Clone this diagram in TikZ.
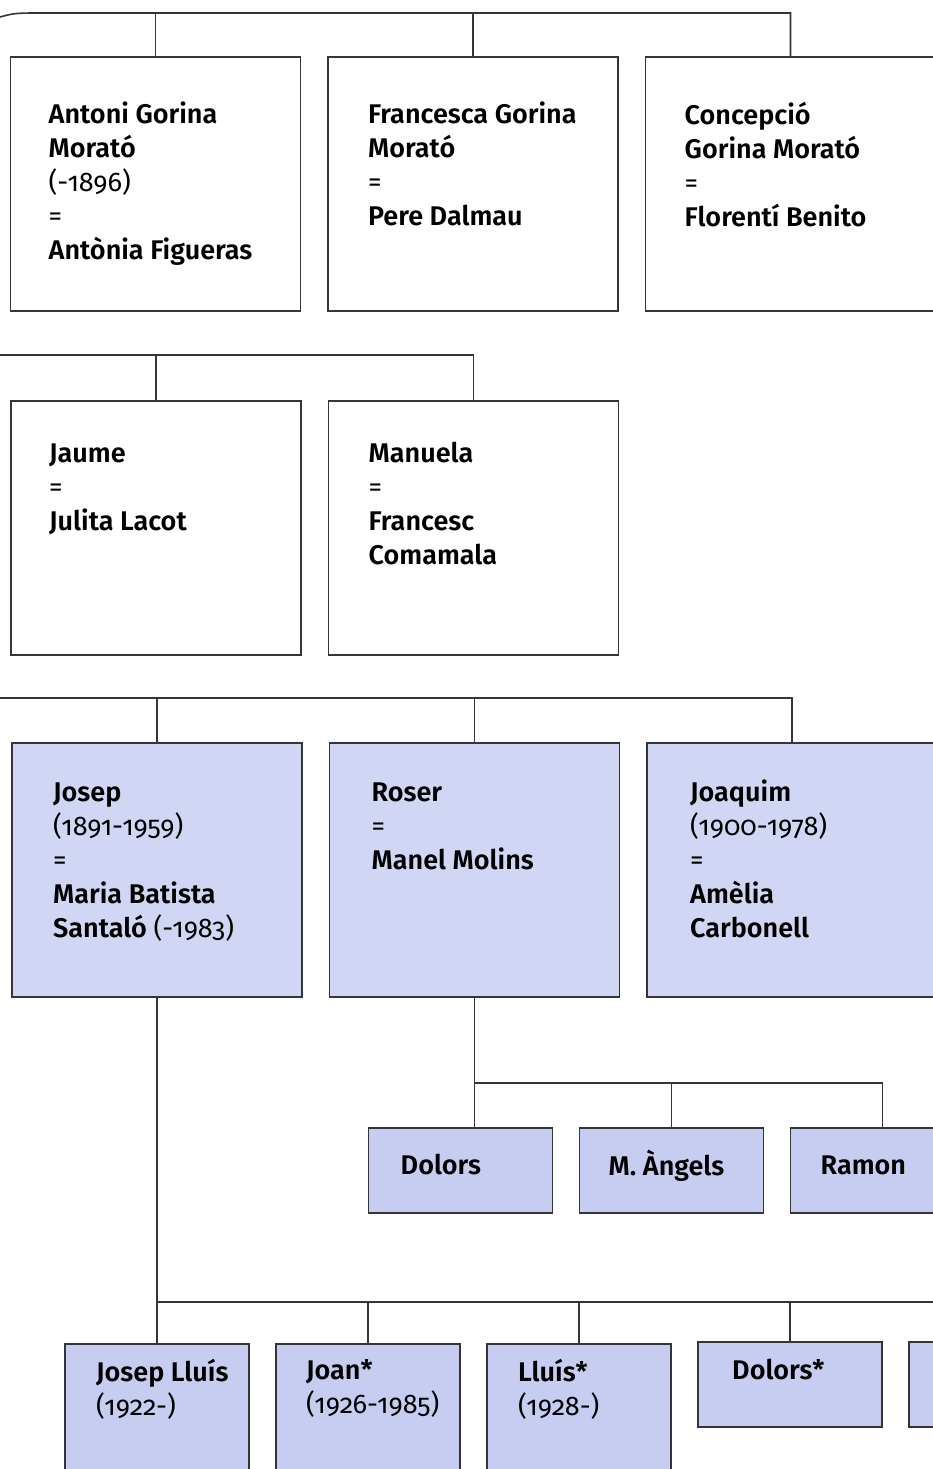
\documentclass[tikz,border=0pt]{standalone}
\usepackage{fontspec}
\setsansfont{Fira Sans}[Numbers=OldStyle, BoldFont={Fira Sans SemiBold}]
\usetikzlibrary{positioning}
\definecolor{famblue}{RGB}{208,214,244}
\definecolor{kidblue}{RGB}{198,205,241}
\definecolor{inkgray}{RGB}{52,52,58}
\newcommand{\yrs}[1]{\textmd{#1}}
\tikzstyle{person} = [rectangle, draw=inkgray, line width=1.8pt, minimum width=290pt, minimum height=254pt, inner sep=0pt, outer sep=0pt]
\tikzstyle{child}  = [rectangle, draw=inkgray, line width=1.8pt, fill=kidblue, minimum width=184pt, minimum height=85pt, inner sep=0pt, outer sep=0pt]
\tikzstyle{label}  = [anchor=north west, align=left, inner sep=0pt,
                      font=\sffamily\bfseries\fontsize{27}{34}\selectfont, execute at begin node=\strut]
\tikzstyle{link}   = [draw=inkgray, line width=1.6pt]

\begin{document}
\begin{tikzpicture}[x=1pt, y=-1pt, tall/.style={child, minimum height=170pt}]
	\useasboundingbox (0,0) rectangle (933,1469);

	\node[person] (antoni) at (155.5,184) {};
	\node[person, right=27.5pt of antoni] (francesca) {};
	\node[person, right=27.5pt of francesca] (concepcio) {};
	\node[label] (antoni-t) at ([shift={(38,45)}]antoni.north west)
		{Antoni Gorina\\Morató\\\yrs{(-1896)}\\\yrs{=}\\Antònia Figueras};
	\node[label] (francesca-t) at ([shift={(40,45)}]francesca.north west)
		{Francesca Gorina\\Morató\\\yrs{=}\\Pere Dalmau};
	\node[label] (concepcio-t) at ([shift={(39,45)}]concepcio.north west)
		{Concepció\\Gorina Morató\\\yrs{=}\\Florentí Benito};
	\coordinate (top) at (0,17);
	\coordinate (topbar) at (45,13);
	\draw[link] (top) .. controls (15,13) .. (topbar) -| (concepcio.north);
	\draw[link] (antoni.north) -- (antoni.north |- topbar);
	\draw[link] (francesca.north) -- (francesca.north |- topbar);

	\node[person] (jaume) at (156,528) {};
	\node[person, right=27.5pt of jaume] (manuela) {};
	\node[label] (jaume-t) at ([shift={(38,43)}]jaume.north west)
		{Jaume\\\yrs{=}\\Julita Lacot};
	\node[label] (manuela-t) at ([shift={(40,41)}]manuela.north west)
		{Manuela\\\yrs{=}\\Francesc\\Comamala};
	\coordinate (mid) at (0,355);
	\draw[link] (mid) -| (manuela.north);
	\draw[link] (jaume.north) -- (jaume.north |- mid);

	\node[person, fill=famblue] (josep) at (157,870) {};
	\node[person, fill=famblue, right=27.5pt of josep] (roser) {};
	\node[person, fill=famblue, right=27.5pt of roser] (joaquim) {};
	\node[label] (josep-t) at ([shift={(41,40)}]josep.north west)
		{Josep\\\yrs{(1891-1959)}\\\yrs{=}\\Maria Batista\\Santaló \yrs{(-1983)}};
	\node[label] (roser-t) at ([shift={(42,40)}]roser.north west)
		{Roser\\\yrs{=}\\Manel Molins};
	\node[label] (joaquim-t) at ([shift={(43,37)}]joaquim.north west)
		{Joaquim\\\yrs{(1900-1978)}\\\yrs{=}\\Amèlia\\Carbonell};
	\coordinate (low) at (0,698);
	\draw[link] (low) -| (joaquim.north);
	\draw[link] (josep.north) -- (josep.north |- low);
	\draw[link] (roser.north) -- (roser.north |- low);

	\node[child] (dolors) at (460.5,1170.5) {};
	\node[child, right=27pt of dolors] (angels) {};
	\node[child, right=27pt of angels] (ramon) {};
	\node[label] (dolors-t) at ([shift={(32,22)}]dolors.north west) {Dolors};
	\node[label] (angels-t) at ([shift={(29,22)}]angels.north west) {M. Àngels};
	\node[label] (ramon-t) at ([shift={(30,22)}]ramon.north west) {Ramon};
	\coordinate (rbar) at (473,1083);
	\draw[link] (roser.south) -- (roser.south |- dolors.north);
	\draw[link] (roser.south |- rbar) -| (ramon.north);
	\draw[link] (angels.north) -- (angels.north |- rbar);

	\node[tall] (jlluis) at (157,1429) {};
	\node[tall, right=27pt of jlluis] (joan) {};
	\node[tall, right=27pt of joan] (lluis) {};
	\node[child] (dolorsb) at (790,1384.5) {};
	\node[child, right=27pt of dolorsb] (next) {};
	\node[label] (jlluis-t) at ([shift={(31,15)}]jlluis.north west)
		{Josep Lluís\\\yrs{(1922-)}};
	\node[label] (joan-t) at ([shift={(30,15)}]joan.north west)
		{Joan*\\\yrs{(1926-1985)}};
	\node[label] (lluis-t) at ([shift={(31,15)}]lluis.north west)
		{Lluís*\\\yrs{(1928-)}};
	\node[label] (dolorsb-t) at ([shift={(34,13)}]dolorsb.north west) {Dolors*};
	\coordinate (kbar) at (940,1302);
	\draw[link] (josep.south) -- (jlluis.north);
	\draw[link] (jlluis.north |- kbar) -- (kbar);
	\draw[link] (joan.north) -- (joan.north |- kbar);
	\draw[link] (lluis.north) -- (lluis.north |- kbar);
	\draw[link] (dolorsb.north) -- (dolorsb.north |- kbar);
\end{tikzpicture}
\end{document}
